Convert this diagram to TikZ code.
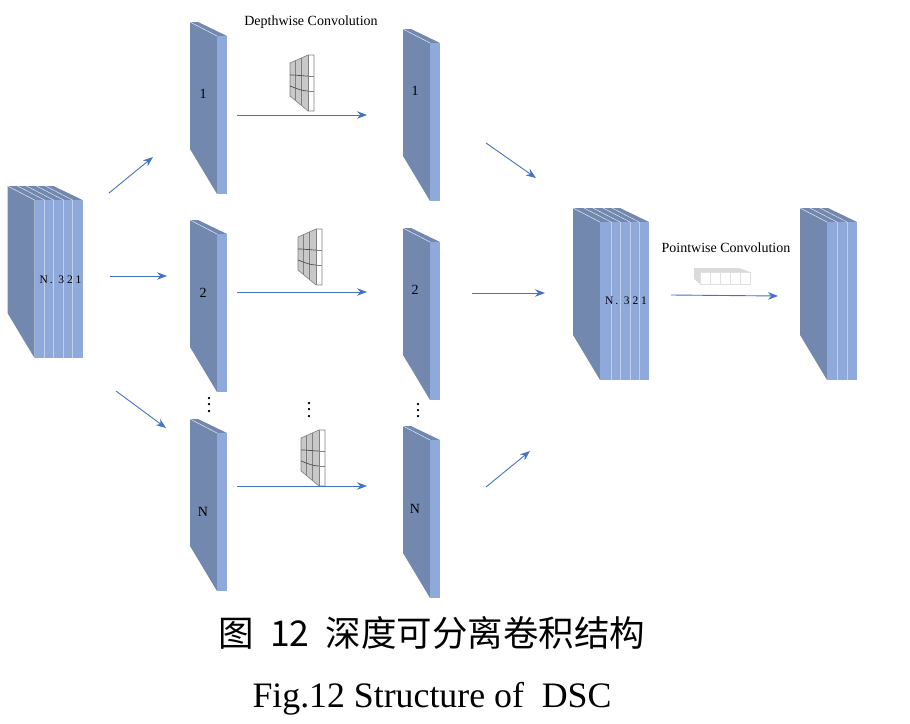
\documentclass[tikz,border=0pt]{standalone}
\usepackage{fontspec}
\setmainfont{Liberation Serif}
\newfontfamily\cjkfont{Noto Sans CJK SC}
\usetikzlibrary{arrows.meta}
\definecolor{sidec}{HTML}{7388AE}
\definecolor{frontc}{HTML}{8FA9DB}
\definecolor{arrowc}{HTML}{4472C4}
\definecolor{filtc}{HTML}{C8C8C8}
\tikzset{
  flow/.style={draw=arrowc,line width=0.9pt,-{Stealth[length=10pt,width=7.5pt]}},
  sideface/.style={fill=sidec,draw=none},
  frontface/.style={fill=frontc,draw=none},
  edgeline/.style={draw=white!80!sidec,line width=0.5pt},
  divider/.style={draw=white!45!frontc,line width=0.6pt},
  lab/.style={font=\fontsize{14}{14}\selectfont,inner sep=0pt,text=black},
  captext/.style={inner sep=0pt,text=black,anchor=base},
  gridline/.style={draw=gray,line width=0.6pt},
  darkline/.style={draw=black!70,line width=0.7pt},
  dotslab/.style={font=\bfseries\fontsize{14}{6.2}\selectfont,inner sep=0pt,text=black,align=center,anchor=base}
}
% #1 x, #2 y of the back corner, #3 front width in px, #4 list of divider offsets
\newcommand{\blockshape}[4]{%
  \fill[sideface] (#1,#2) -- (#1+27,#2+14) -- (#1+27,#2+172) -- (#1,#2+127) -- cycle;
  \fill[sideface] (#1,#2) -- (#1+#3-2,#2) -- (#1+27+#3,#2+14) -- (#1+27,#2+14) -- cycle;
  \fill[frontface] (#1+27,#2+14) rectangle (#1+27+#3,#2+172);
  \draw[edgeline] (#1,#2) -- (#1+27,#2+14);
  \foreach \d in {#4}{
    \draw[divider] (#1+27+\d,#2+14) -- (#1+27+\d,#2+172);
    \draw[edgeline] (#1+\d,#2) -- (#1+27+\d,#2+14);
  }%
}
\newcommand{\filterglyph}[2]{%
  \fill[filtc] (#1,#2+8) -- (#1+18,#2) -- (#1+18,#2+56) -- (#1,#2+41) -- cycle;
  \fill[white] (#1+18,#2) rectangle (#1+24,#2+56);
  \draw[gridline] (#1,#2+8) -- (#1+18,#2) -- (#1+24,#2) -- (#1+24,#2+56) -- (#1+18,#2+56) -- (#1,#2+41) -- cycle;
  \draw[gridline] (#1+5.5,#2+6) -- (#1+5.5,#2+46);
  \draw[gridline] (#1+11,#2+3) -- (#1+11,#2+51);
  \draw[gridline] (#1+18,#2) -- (#1+18,#2+56);
  \draw[darkline] (#1,#2+20) .. controls (#1+8,#2+20) and (#1+12,#2+21) .. (#1+18,#2+21);
  \draw[darkline] (#1,#2+31) .. controls (#1+8,#2+34) and (#1+12,#2+36) .. (#1+18,#2+36);
  \draw[gridline] (#1+18,#2+21) -- (#1+24,#2+21);
  \draw[gridline] (#1+18,#2+36) -- (#1+24,#2+36);
}
\begin{document}
\begin{tikzpicture}[x=1pt,y=-1pt]
\useasboundingbox (0,0) rectangle (910,723);
% slabs
\blockshape{190}{22}{10}{}
\blockshape{190}{220}{10}{}
\blockshape{190}{419}{10}{}
\blockshape{403}{29}{10}{}
\blockshape{403}{228}{10}{}
\blockshape{403}{426}{10}{}
% stacks
\blockshape{7.5}{186}{48}{10,19,29,38}
\blockshape{573}{208}{49}{11,20,30,39}
\blockshape{800}{208}{30}{10,20}
% filters
\filterglyph{290}{55}
\filterglyph{298}{229}
\filterglyph{301}{430}
% pointwise kernel
\fill[black!14] (694,268) -- (739,268) -- (750,272) -- (700,272) -- (700,284) -- (694,279) -- cycle;
\fill[white] (700,272) rectangle (750,284);
\draw[black!12,line width=0.6pt] (700,272) rectangle (750,284);
\foreach \cx in {710,720,730,740}{\draw[black!12,line width=0.6pt] (\cx,272) -- (\cx,284);}
% labels
\node[lab] (l1a) at (203,94) {1};
\node[lab] (l1b) at (415,91) {1};
\node[lab] (l2a) at (203,293) {2};
\node[lab] (l2b) at (415,290) {2};
\node[lab] (lNa) at (203,512) {N};
\node[lab] (lNb) at (415,509) {N};
\node[lab,font=\fontsize{11.5}{11.5}\selectfont] (stackL) at (60.5,280) {N\,.\ \ 3\ 2\ 1};
\node[lab,font=\fontsize{11.5}{11.5}\selectfont] (stackR) at (626,301) {N\,.\ \ 3\ 2\ 1};
\node[lab,font=\fontsize{14}{14}\selectfont] (dw) at (311,22) {Depthwise Convolution};
\node[lab,font=\fontsize{14}{14}\selectfont] (pw) at (726,248) {Pointwise Convolution};
\node[dotslab] (d1) at (209,412) {.\\.\\.};
\node[dotslab] (d2) at (309,417) {.\\.\\.};
\node[dotslab] (d3) at (418,417.5) {.\\.\\.};
% captions
\node[captext,font=\fontsize{35.5}{35.5}\selectfont\cjkfont] (cn) at (432,646) {图\ \ 12\ \ 深度可分离卷积结构};
\node[captext,font=\fontsize{35.8}{35.8}\selectfont] (en) at (432,707) {Fig.12 Structure of\ \ DSC};
% arrow ends
\foreach \n/\x/\y in {a0/109/193,a1/153/157,b0/110/276,b1/167/276,c0/116/391,c1/166/428,
  d0/237/115,dd1/367/115,e0/237/292,e1/367/292,f0/237/486,f1/367/486,
  g0/486/143,g1/536/178,h0/472/293,h1/545/293,i0/486/487,i1/530/451,j0/671/295,j1/778/296}
  {\coordinate (\n) at (\x,\y);}
\draw[flow] (a0) -- (a1);
\draw[flow] (b0) -- (b1);
\draw[flow] (c0) -- (c1);
\draw[flow] (d0) -- (dd1);
\draw[flow] (e0) -- (e1);
\draw[flow] (f0) -- (f1);
\draw[flow] (g0) -- (g1);
\draw[flow] (h0) -- (h1);
\draw[flow] (i0) -- (i1);
\draw[flow] (j0) -- (j1);
\end{tikzpicture}
\end{document}
